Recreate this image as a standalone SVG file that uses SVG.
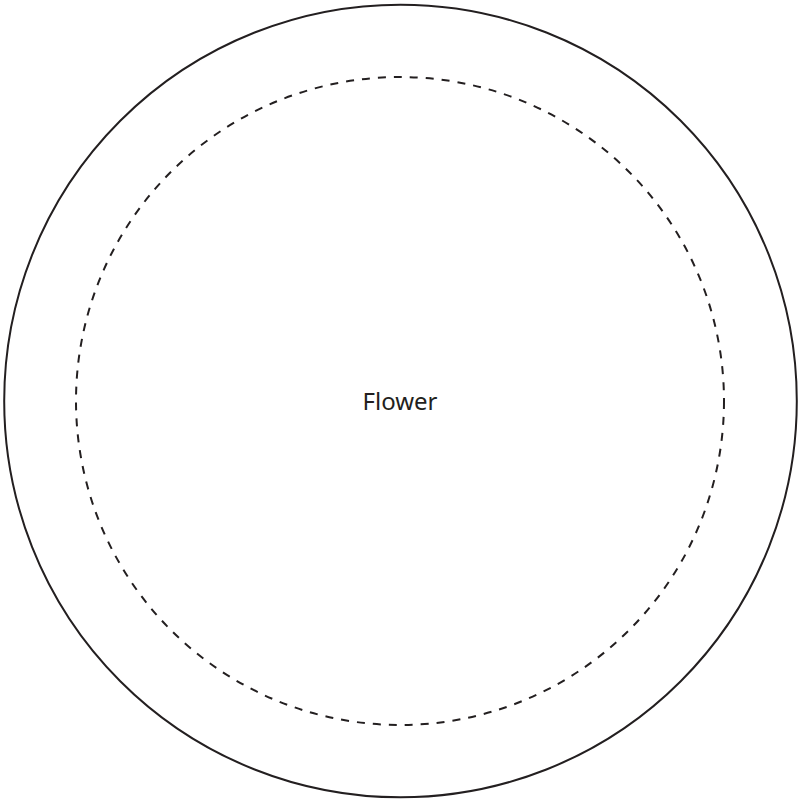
<svg xmlns="http://www.w3.org/2000/svg" width="798" height="800" viewBox="0 0 798 800">
<style>
.outer{fill:none;stroke:#231f20;stroke-width:2}
.inner{fill:none;stroke:#231f20;stroke-width:2;stroke-dasharray:8 8}
.lbl{font-family:"Noto Sans","Open Sans",sans-serif;font-size:24px;fill:#231f20;text-anchor:middle}
</style>
<rect width="798" height="800" fill="#fff"/>
<g id="outer"><circle class="outer" cx="400.5" cy="401" r="396.3"/></g>
<g id="flower">
<circle class="inner" cx="400" cy="401" r="324"/>
<text class="lbl" x="400" y="409.5">Flower</text>
</g>
</svg>
